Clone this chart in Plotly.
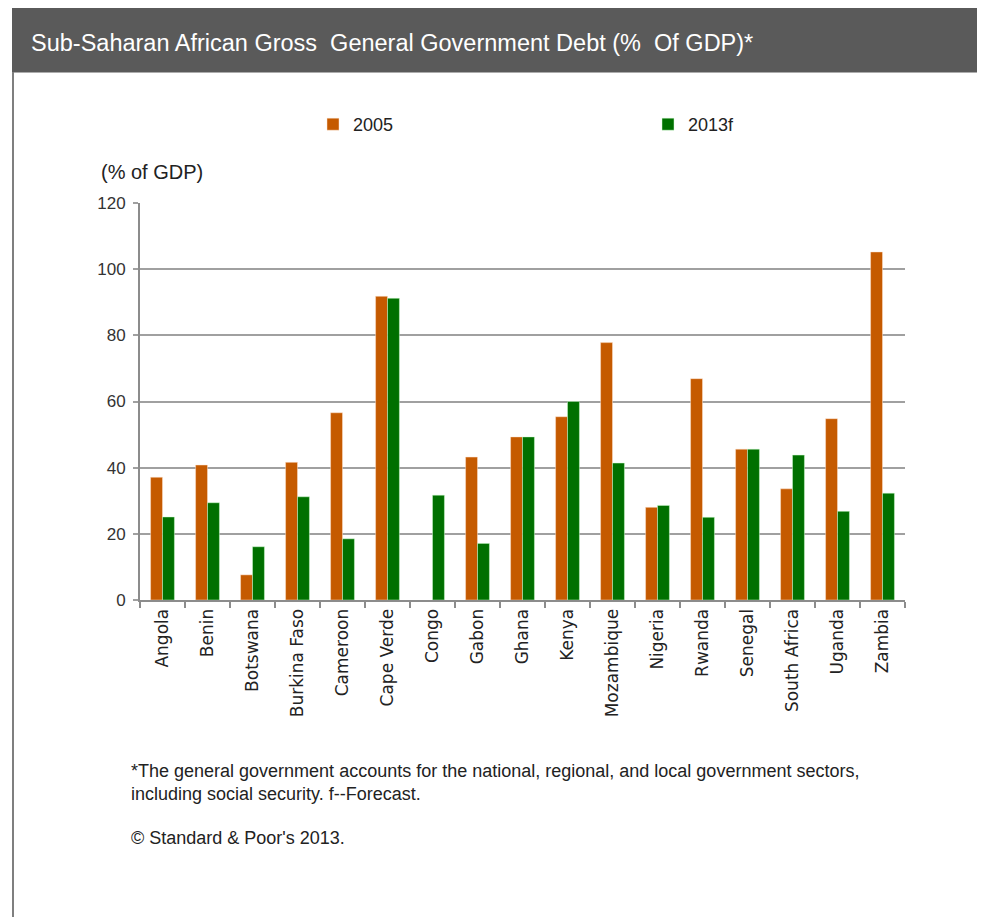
import plotly.graph_objects as go

countries = ["Angola", "Benin", "Botswana", "Burkina Faso", "Cameroon", "Cape Verde",
             "Congo", "Gabon", "Ghana", "Kenya", "Mozambique", "Nigeria", "Rwanda",
             "Senegal", "South Africa", "Uganda", "Zambia"]
debt_2005 = [37.1, 40.8, 7.6, 41.6, 56.6, 91.8, None, 43.2, 49.3, 55.4, 77.8, 28.0,
             66.9, 45.6, 33.6, 54.8, 105.2]
debt_2013f = [25.1, 29.4, 16.1, 31.2, 18.5, 91.2, 31.7, 17.1, 49.3, 60.0, 41.4, 28.6,
              25.0, 45.6, 43.8, 26.8, 32.3]
y_ticks = [0, 20, 40, 60, 80, 100, 120]

OFF = 8  # page body margin added by the browser
W, H = 985 - OFF, 917 - OFF
# plot area in screen pixels
L, R, T, B = 140 - OFF, 905 - OFF, 203 - OFF, 600 - OFF


def px_x(px):
    return (px - OFF - L) / (R - L)


def px_y(py):
    return (B - (py - OFF)) / (B - T)


SANS = "Liberation Sans, Arial, sans-serif"

fig = go.Figure()
fig.add_trace(go.Bar(name="2005", x=countries, y=debt_2005,
                     marker=dict(color="#C55A00", line=dict(width=0.6, color="rgba(255,230,210,0.8)"))))
fig.add_trace(go.Bar(name="2013f", x=countries, y=debt_2013f,
                     marker=dict(color="#007000", line=dict(width=0.6, color="rgba(210,255,210,0.8)"))))

fig.update_layout(
    width=W, height=H,
    margin=dict(l=L, r=W - R, t=T, b=H - B, autoexpand=False),
    paper_bgcolor="white", plot_bgcolor="white",
    barmode="group", bargap=0.47, bargroupgap=0,
    showlegend=True,
    legend=dict(orientation="h", x=px_x(313), y=px_y(106), xanchor="left", yanchor="top",
                entrywidth=290, entrywidthmode="pixels",
                font=dict(family=SANS, size=18, color="#222222"),
                itemclick=False, bgcolor="rgba(0,0,0,0)"),
    xaxis=dict(showgrid=False, showline=True, linecolor="#8C8C8C", linewidth=2,
               ticks="outside", tickson="boundaries", ticklen=6, tickcolor="#8C8C8C", tickwidth=1.5,
               tickangle=-90, tickfont=dict(family="DejaVu Sans, Verdana, sans-serif", size=17, color="#222222")),
    yaxis=dict(range=[0, 120], tickvals=y_ticks, showgrid=True, gridcolor="#A0A0A0", gridwidth=2,
               showline=True, linecolor="#8C8C8C", linewidth=2, zeroline=False,
               ticks="outside", ticklen=5, tickcolor="#A0A0A0", tickwidth=2, ticklabelstandoff=4,
               tickfont=dict(family=SANS, size=17, color="#333333")),
    shapes=[
        dict(type="rect", xref="paper", yref="paper", x0=px_x(12), x1=px_x(982),
             y0=px_y(72.6), y1=px_y(5), fillcolor="#5A5A5A", line=dict(width=0), layer="below"),
        dict(type="line", xref="paper", yref="paper", x0=px_x(13), x1=px_x(13),
             y0=px_y(72), y1=px_y(917), line=dict(color="#7F7F7F", width=2)),
        dict(type="line", xref="paper", yref="paper", x0=px_x(980), x1=px_x(980),
             y0=px_y(72), y1=px_y(917), line=dict(color="#7F7F7F", width=2)),
    ],
    annotations=[
        dict(text="Sub-Saharan African Gross\u00a0 General Government Debt (%\u00a0 Of GDP)*",
             xref="paper", yref="paper", x=px_x(29), y=px_y(43), xanchor="left", yanchor="middle",
             showarrow=False, font=dict(family=SANS, size=23.5, color="white")),
        dict(text="(% of GDP)", xref="paper", yref="paper", x=px_x(99), y=px_y(172),
             xanchor="left", yanchor="middle", showarrow=False,
             font=dict(family=SANS, size=20, color="#222222")),
        dict(text="*The general government accounts for the national, regional, and local government sectors,<br>"
                  "including social security. f--Forecast.",
             xref="paper", yref="paper", x=px_x(129), y=px_y(759), xanchor="left", yanchor="top",
             align="left", showarrow=False,
             font=dict(family=SANS, size=18, color="#222222")),
        dict(text="\u00a9 Standard &amp; Poor's 2013.", xref="paper", yref="paper", x=px_x(129), y=px_y(838),
             xanchor="left", yanchor="middle", align="left", showarrow=False,
             font=dict(family=SANS, size=18, color="#222222")),
    ],
)

fig.write_html("out.html")
